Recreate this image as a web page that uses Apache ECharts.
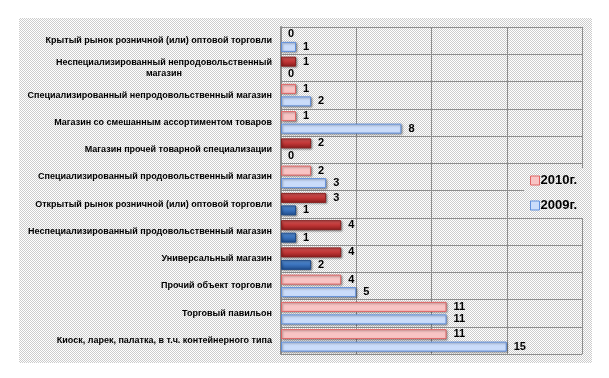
<!DOCTYPE html>
<html>
<head>
<meta charset="utf-8">
<script src="https://cdn.jsdelivr.net/npm/echarts@6/dist/echarts.min.js"></script>
<style>
    html, body { margin: 0; padding: 0; background: #fff; }
    #chart { width: 609px; height: 378px; }
</style>
</head>
<body>
<div id="chart"></div>
<script>
// Categories, top to bottom
const categories = [
    'Крытый рынок розничной (или) оптовой торговли',
    'Неспециализированный непродовольственный\nмагазин',
    'Специализированный непродовольственный магазин',
    'Магазин со смешанным ассортиментом товаров',
    'Магазин прочей товарной специализации',
    'Специализированный продовольственный магазин',
    'Открытый рынок розничной (или) оптовой торговли',
    'Неспециализированный продовольственный магазин',
    'Универсальный магазин',
    'Прочий объект торговли',
    'Торговый павильон',
    'Киоск, ларек, палатка, в т.ч. контейнерного типа'
];
const seriesNames = ['2010г.', '2009г.'];
const values2010 = [0, 1, 1, 1, 2, 2, 3, 4, 4, 4, 11, 11];
const values2009 = [1, 0, 2, 8, 0, 3, 1, 1, 2, 5, 11, 15];
const xTicks = [0, 5, 10, 15, 20];

// small checkerboard used as the chart background texture
function makePattern() {
    const c = document.createElement('canvas');
    c.width = 2;
    c.height = 2;
    const ctx = c.getContext('2d');
    ctx.fillStyle = '#ffffff';
    ctx.fillRect(0, 0, 2, 2);
    ctx.fillStyle = '#cccccc';
    ctx.fillRect(0, 0, 1, 1);
    ctx.fillRect(1, 1, 1, 1);
    return { image: c, repeat: 'repeat' };
}
const pattern = makePattern();

const lightRed = { color: '#f8c4c4', borderColor: '#e06464', borderWidth: 1 };
const darkRed = {
    color: new echarts.graphic.LinearGradient(0, 0, 0, 1, [
        { offset: 0, color: '#d85a5a' },
        { offset: 0.5, color: '#c03636' },
        { offset: 1, color: '#8a1c1c' }
    ]),
    borderColor: '#8a2020', borderWidth: 1
};
const lightBlue = { color: '#cadcfa', borderColor: '#5f8fdc', borderWidth: 1 };
const darkBlue = {
    color: new echarts.graphic.LinearGradient(0, 0, 0, 1, [
        { offset: 0, color: '#5a92d8' },
        { offset: 0.5, color: '#3a72bc' },
        { offset: 1, color: '#1f4c8a' }
    ]),
    borderColor: '#1f4c8a', borderWidth: 1
};
const shadow = { shadowColor: 'rgba(0,0,0,0.35)', shadowBlur: 2, shadowOffsetX: 1, shadowOffsetY: 1 };
const hidden = { color: 'transparent', borderWidth: 0, shadowBlur: 0 };

// rows where 2010 grew over 2009 are drawn in the darker shade; zero bars only keep their label
function buildData(values, light, dark) {
    return values.map((v, i) => ({
        value: v,
        itemStyle: v === 0 ? hidden
            : Object.assign({}, values2010[i] > values2009[i] ? dark : light, shadow)
    }));
}

const chart = echarts.init(document.getElementById('chart'));

const labelFont = { fontFamily: 'Liberation Sans', fontWeight: 'bold', fontSize: 9, color: '#000', lineHeight: 11 };

const options = {
    animation: false,
    graphic: [
        {
            type: 'rect',
            z: -10,
            shape: { x: 19, y: 18, width: 573, height: 345 },
            style: { fill: pattern }
        }
    ],
    grid: { left: 281, right: 27, top: 27, bottom: 24 },
    legend: {
        orient: 'vertical',
        left: 524,
        top: 168,
        padding: [6, 8, 6, 6],
        itemWidth: 9,
        itemHeight: 9,
        itemGap: 12,
        icon: 'rect',
        backgroundColor: pattern,
        data: [
            { name: seriesNames[0], itemStyle: lightRed },
            { name: seriesNames[1], itemStyle: lightBlue }
        ],
        textStyle: {
            fontFamily: 'Liberation Sans',
            fontWeight: 'bold',
            fontSize: 13,
            color: '#000',
            padding: [0, 0, 0, -4]
        }
    },
    xAxis: {
        type: 'value',
        min: xTicks[0],
        max: xTicks[xTicks.length - 1],
        interval: xTicks[1] - xTicks[0],
        axisLabel: { show: false },
        axisLine: { show: false },
        axisTick: { show: false },
        splitLine: { lineStyle: { color: '#8c8c8c', width: 1 } }
    },
    yAxis: {
        type: 'category',
        inverse: true,
        data: categories,
        axisLine: { lineStyle: { color: '#8c8c8c', width: 2 } },
        axisTick: { length: 3, lineStyle: { color: '#8c8c8c' } },
        splitLine: { show: true, lineStyle: { color: '#8c8c8c', width: 1 } },
        axisLabel: Object.assign({
            margin: 9,
            formatter: function (name) {
                if (name.indexOf('\n') < 0) return name;
                const parts = name.split('\n');
                return '{a|' + parts[0] + '}\n{b|' + parts[1] + '}';
            },
            rich: {
                a: labelFont,
                b: Object.assign({ width: 212, align: 'center' }, labelFont)
            }
        }, labelFont)
    },
    series: [
        {
            name: seriesNames[0],
            type: 'bar',
            barWidth: 10,
            barGap: '25%',
            itemStyle: lightRed,
            label: {
                show: true, position: 'right', distance: 7,
                fontFamily: 'Liberation Sans', fontWeight: 'bold', fontSize: 11, color: '#000'
            },
            data: buildData(values2010, lightRed, darkRed)
        },
        {
            name: seriesNames[1],
            type: 'bar',
            barWidth: 10,
            barGap: '25%',
            itemStyle: lightBlue,
            label: {
                show: true, position: 'right', distance: 7,
                fontFamily: 'Liberation Sans', fontWeight: 'bold', fontSize: 11, color: '#000'
            },
            data: buildData(values2009, lightBlue, darkBlue)
        }
    ]
};

chart.setOption(options);
</script>
</body>
</html>
